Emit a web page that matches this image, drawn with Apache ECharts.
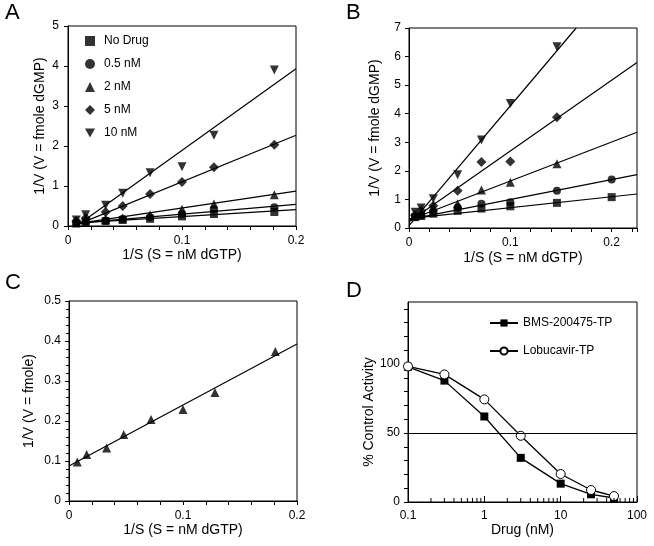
<!DOCTYPE html>
<html><head><meta charset="utf-8">
<script src="https://cdn.jsdelivr.net/npm/echarts@6/dist/echarts.min.js"></script>
<style>html,body{margin:0;padding:0;background:#fff}#c{width:654px;height:546px}</style>
</head><body><div id="c"></div>
<script>
// ---- Panel A data ----
const A_x = [0.0073, 0.0155, 0.033, 0.048, 0.072, 0.1, 0.128, 0.181];
const A_noDrug = [0.06, 0.10, 0.12, 0.15, 0.18, 0.24, 0.30, 0.35];
const A_05 = [0.08, 0.12, 0.14, 0.18, 0.22, 0.30, 0.42, 0.47];
const A_2 = [0.10, 0.15, 0.17, 0.20, 0.28, 0.42, 0.55, 0.78];
const A_5 = [0.12, 0.20, 0.35, 0.50, 0.80, 1.10, 1.47, 2.03];
const A_10 = [0.15, 0.28, 0.52, 0.82, 1.33, 1.48, 2.27, 3.90];
// fitted lines [startX, endX] and [startY, endY]
const A_fitNoDrug = [[0.006, 0.2], [0.07, 0.41]];
const A_fit05 = [[0.006, 0.2], [0.065, 0.54]];
const A_fit2 = [[0.006, 0.2], [0.055, 0.87]];
const A_fit5 = [[0.006, 0.2], [0.01, 2.27]];
const A_fit10 = [[0.008, 0.2], [0.01, 3.93]];
const A_names = ['No Drug', '0.5 nM', '2 nM', '5 nM', '10 nM'];

// ---- Panel B data ----
const B_x = [0.006, 0.012, 0.024, 0.048, 0.0715, 0.1, 0.146, 0.2];
const B_noDrug = [0.38, 0.42, 0.50, 0.60, 0.68, 0.76, 0.88, 1.08];
const B_05 = [0.40, 0.45, 0.55, 0.72, 0.85, 0.90, 1.30, 1.70];
const B_2 = [0.42, 0.50, 0.75, 0.85, 1.33, 1.60, 2.25];
const B_5 = [0.45, 0.60, 0.78, 1.30, 2.31, 2.33, 3.88];
const B_10 = [0.55, 0.70, 1.02, 1.86, 3.08, 4.36, 6.34];
const B_fitNoDrug = [[0, 0.225], [0.33, 1.19]];
const B_fit05 = [[0, 0.225], [0.30, 1.87]];
const B_fit2 = [[0, 0.225], [0.28, 3.35]];
const B_fit5 = [[0, 0.225], [0.22, 5.79]];
const B_fit10 = [[0, 0.165], [0.08, 7.0]];

// ---- Panel C data ----
const C_x = [0.0073, 0.0155, 0.033, 0.048, 0.072, 0.1, 0.128, 0.181];
const C_y = [0.0975, 0.116, 0.1325, 0.166, 0.204, 0.229, 0.271, 0.374];
const C_fit = [[0, 0.2], [0.0875, 0.3925]];

// ---- Panel D data ----
const D_x = [0.1, 0.3, 1, 3, 10, 25, 50];
const D_bms = [98, 88, 62, 32, 13.3, 5.6, 2.9];
const D_lobu = [98.3, 92.5, 74.4, 48, 20.3, 8.7, 4.3];
const D_ref = 50;
const D_minorTicks = [0.2,0.3,0.4,0.5,0.6,0.7,0.8,0.9,2,3,4,5,6,7,8,9,20,30,40,50,60,70,80,90];

const FONT = 'Liberation Sans, Arial, Helvetica, sans-serif';
const zip = (xs, ys) => ys.map((y, i) => [xs[i], y]);
const fitData = f => [[f[0][0], f[1][0]], [f[0][1], f[1][1]]];

const chart = echarts.init(document.getElementById('c'), null, {renderer: 'canvas'});

const lbl = {color: '#000', fontSize: 12, fontFamily: FONT};
const nameStyle = {color: '#000', fontSize: 14, fontFamily: FONT};
const axLine = {show: true, lineStyle: {color: '#000', width: 1}};
const tickOut = {show: true, inside: false, length: 4, lineStyle: {color: '#000'}};
const fmt01 = v => {
  const r = Math.round(v * 100);
  if (r % 10 !== 0) return '';
  return r === 0 ? '0' : (r / 100).toString();
};

function xLin(idx, max, gap) {
  return {
    type: 'value', gridIndex: idx, min: 0, max: max, interval: 0.02,
    axisLine: axLine, axisTick: tickOut, splitLine: {show: false},
    axisLabel: Object.assign({formatter: fmt01, margin: 9, showMaxLabel: true}, lbl),
    name: '1/S (S = nM dGTP)', nameLocation: 'middle', nameGap: gap, nameTextStyle: nameStyle
  };
}

const scatterStyle = {color: '#000'};
function sc(name, data, symbol, size, xi, rot) {
  return {type: 'scatter', name: name, xAxisIndex: xi, yAxisIndex: xi, data: data,
    symbol: symbol, symbolSize: size, symbolRotate: rot || 0, itemStyle: scatterStyle, z: 3};
}
function ln(data, xi) {
  return {type: 'line', xAxisIndex: xi, yAxisIndex: xi, data: data, symbol: 'none',
    lineStyle: {color: '#000', width: 1.2}, silent: true, z: 2};
}

const symbols = ['rect', 'circle', 'triangle', 'diamond', 'triangle'];
const legendIcons = ['rect', 'circle', 'triangle', 'diamond', 'path://M0,0L10,0L5,9Z'];
const sizes = [8, 8, 9, 10, 9];
const rots = [0, 0, 0, 0, 180];
const A_sets = [A_noDrug, A_05, A_2, A_5, A_10];
const A_fits = [A_fitNoDrug, A_fit05, A_fit2, A_fit5, A_fit10];
const B_sets = [B_noDrug, B_05, B_2, B_5, B_10];
const B_fits = [B_fitNoDrug, B_fit05, B_fit2, B_fit5, B_fit10];

const series = [];
A_names.forEach((n, i) => {
  series.push(ln(fitData(A_fits[i]), 0));
  series.push(sc(n, zip(A_x, A_sets[i]), symbols[i], sizes[i], 0, rots[i]));
});
A_names.forEach((n, i) => {
  series.push(ln(fitData(B_fits[i]), 1));
  series.push(sc('B ' + n, zip(B_x, B_sets[i]), symbols[i], sizes[i], 1, rots[i]));
});
series.push(ln(fitData(C_fit), 2));
series.push(sc('C', zip(C_x, C_y), 'triangle', 9, 2));
series.push({type: 'line', name: 'BMS-200475-TP', xAxisIndex: 3, yAxisIndex: 3,
  data: zip(D_x, D_bms), symbol: 'rect', symbolSize: 8,
  lineStyle: {color: '#000', width: 1.3}, itemStyle: {color: '#000'}, z: 3,
  markLine: {silent: true, symbol: 'none', label: {show: false},
    lineStyle: {color: '#000', width: 1, type: 'solid'}, data: [{yAxis: D_ref}]}});
series.push({type: 'line', name: 'Lobucavir-TP', xAxisIndex: 3, yAxisIndex: 3,
  data: zip(D_x, D_lobu), symbol: 'circle', symbolSize: 9,
  lineStyle: {color: '#000', width: 1.3},
  itemStyle: {color: '#fff', borderColor: '#000', borderWidth: 1}, z: 4});
series.push({type: 'custom', xAxisIndex: 3, yAxisIndex: 3, silent: true,
  data: D_minorTicks.map(v => [v, 0]),
  renderItem: (params, api) => {
    const p = api.coord([api.value(0), 0]);
    return {type: 'line', shape: {x1: p[0], y1: p[1], x2: p[0], y2: p[1] - 4},
      style: {stroke: '#000', lineWidth: 1}};
  }, z: 5});

const option = {
  animation: false,
  backgroundColor: '#fff',
  textStyle: {fontFamily: FONT},
  grid: [
    {left: 68, top: 26, width: 228, height: 200, show: true, borderColor: '#000', borderWidth: 1},
    {left: 409, top: 28, width: 228, height: 200, show: true, borderColor: '#000', borderWidth: 1},
    {left: 69, top: 301, width: 228, height: 200, show: true, borderColor: '#000', borderWidth: 1},
    {left: 408, top: 302, width: 229, height: 200, show: true, borderColor: '#000', borderWidth: 1}
  ],
  xAxis: [
    xLin(0, 0.2, 22),
    xLin(1, 0.225, 23),
    xLin(2, 0.2, 21),
    {type: 'log', gridIndex: 3, min: 0.1, max: 100, logBase: 10,
      axisLine: axLine, axisTick: {show: true, inside: true, length: 6, lineStyle: {color: '#000'}},
      splitLine: {show: false},
      axisLabel: Object.assign({margin: 8, showMaxLabel: true, formatter: v => {
        const l = Math.round(Math.log10(v));
        return ['0.1', '1', '10', '100'][l + 1] || '';
      }}, lbl),
      name: 'Drug (nM)', nameLocation: 'middle', nameGap: 20, nameTextStyle: nameStyle}
  ],
  yAxis: [
    {type: 'value', gridIndex: 0, min: 0, max: 5, interval: 1,
      axisLine: axLine, axisTick: tickOut, splitLine: {show: false},
      axisLabel: Object.assign({margin: 9}, lbl),
      name: '1/V (V = fmole dGMP)', nameLocation: 'middle', nameGap: 21, nameTextStyle: nameStyle},
    {type: 'value', gridIndex: 1, min: 0, max: 7, interval: 1,
      axisLine: axLine, axisTick: tickOut, splitLine: {show: false},
      axisLabel: Object.assign({margin: 8}, lbl),
      name: '1/V (V = fmole dGMP)', nameLocation: 'middle', nameGap: 27, nameTextStyle: nameStyle},
    {type: 'value', gridIndex: 2, min: 0, max: 0.5, interval: 0.1,
      axisLine: axLine, axisTick: tickOut, splitLine: {show: false},
      minorTick: {show: true, splitNumber: 5, length: 3, lineStyle: {color: '#000'}},
      axisLabel: Object.assign({margin: 8, formatter: v => v === 0 ? '0' : v.toFixed(1)}, lbl),
      name: '1/V (V = fmole)', nameLocation: 'middle', nameGap: 33, nameTextStyle: nameStyle},
    {type: 'value', gridIndex: 3, min: 0, max: 145, interval: 10,
      axisLine: axLine, axisTick: tickOut, splitLine: {show: false},
      axisLabel: Object.assign({margin: 8, showMaxLabel: false,
        formatter: v => (v % 50 === 0 ? String(v) : '')}, lbl),
      name: '% Control Activity', nameLocation: 'middle', nameGap: 29,
      nameTextStyle: Object.assign({padding: [0, 20, 0, 0]}, nameStyle)}
  ],
  legend: [
    {data: A_names.map((n, i) => ({name: n, icon: legendIcons[i]})),
      orient: 'vertical', left: 85, top: 35, padding: 0, itemWidth: 10, itemHeight: 10,
      itemGap: 11, textStyle: Object.assign({padding: [0, 0, 0, 4]}, lbl), selectedMode: false},
    {data: ['BMS-200475-TP', 'Lobucavir-TP'], orient: 'vertical', left: 489, top: 317, padding: 0,
      itemWidth: 28, itemHeight: 9, itemGap: 16, textStyle: lbl, selectedMode: false}
  ],
  graphic: [
    {type: 'text', left: 5, top: 2, style: {text: 'A', font: '22px ' + FONT, fill: '#000'}},
    {type: 'text', left: 346, top: 2, style: {text: 'B', font: '22px ' + FONT, fill: '#000'}},
    {type: 'text', left: 5, top: 272, style: {text: 'C', font: '22px ' + FONT, fill: '#000'}},
    {type: 'text', left: 346, top: 280, style: {text: 'D', font: '22px ' + FONT, fill: '#000'}}
  ],
  series: series
};
chart.setOption(option);
</script></body></html>
